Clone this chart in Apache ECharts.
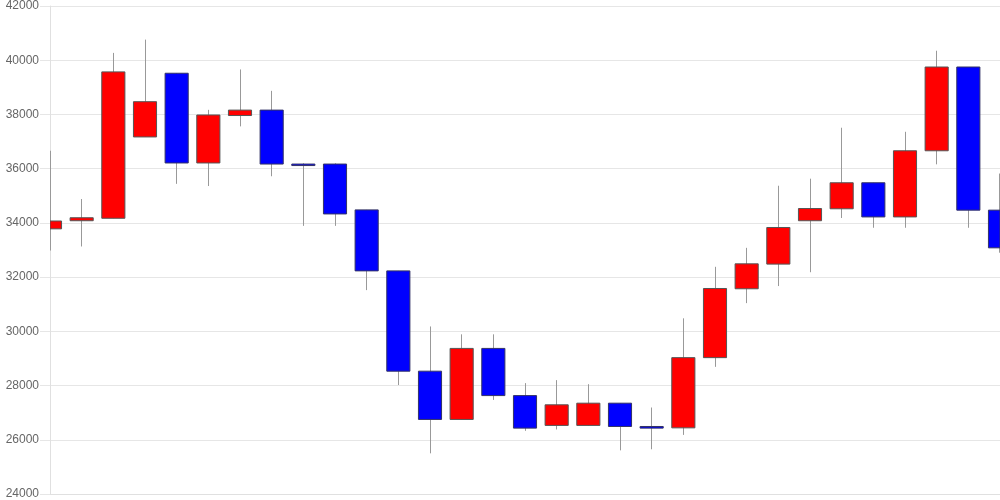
<!DOCTYPE html>
<html>
<head>
<meta charset="utf-8">
<script src="https://cdn.jsdelivr.net/npm/echarts@6/dist/echarts.min.js"></script>
<style>
html,body{margin:0;padding:0;background:#fff;}
#chart{width:1000px;height:500px;}
</style>
</head>
<body>
<div id="chart"></div>
<script>
var categories = ['1','2','3','4','5','6','7','8','9','10','11','12','13','14','15','16','17','18','19','20','21','22','23','24','25','26','27','28','29','30','31'];
var openValues  = [33780,34080,34170,37170,39520,36210,37960,38160,36170,36170,34480,32230,28530,26750,29370,27630,26530,26530,27350,26490,26440,29030,31570,32480,34080,34520,35480,34220,36660,39750,34470];
var closeValues = [34070,34190,39570,38470,36210,37980,38160,36170,36120,34330,32230,28530,26750,29370,27630,26430,27290,27350,26490,26430,29030,31580,32490,33830,34530,35480,34220,36660,39750,34470,33080];
var lowValues   = [32980,33130,34170,37170,35440,35360,37560,35720,33890,33890,31520,28020,25500,26750,27470,26330,26380,26530,25610,25650,26180,28690,31040,31670,32180,34180,33820,33820,36160,33820,32900];
var highValues  = [36660,34880,40270,40760,39520,38170,39660,38870,36200,36200,34480,32230,30180,29890,29890,28090,28200,28050,27350,27190,30480,32380,33080,35370,35630,37510,35480,37360,40350,39750,35820];
var yTicks = [24000,26000,28000,30000,32000,34000,36000,38000,40000,42000];

var seriesData = [];
for (var i = 0; i < categories.length; i++) {
  seriesData.push([i, openValues[i], closeValues[i], lowValues[i], highValues[i]]);
}

function renderItem(params, api) {
  var idx = api.value(0);
  var o = api.value(1), c = api.value(2), l = api.value(3), h = api.value(4);
  var pO = api.coord([idx, o]);
  var pC = api.coord([idx, c]);
  var pL = api.coord([idx, l]);
  var pH = api.coord([idx, h]);
  var w = api.size([1, 0])[0] * 0.73;
  var cs = params.coordSys;
  var clipArea = {x: cs.x, y: cs.y, width: cs.width, height: cs.height};
  var top = Math.min(pO[1], pC[1]);
  var hgt = Math.max(Math.abs(pO[1] - pC[1]), 1.5);
  var body = echarts.graphic.clipRectByRect({x: pO[0] - w / 2, y: top, width: w, height: hgt}, clipArea);
  var up = c >= o;
  var xw = Math.round(pO[0] - 0.5) + 0.5;
  if (xw > cs.x + cs.width) xw = cs.x + cs.width - 0.5;
  var children = [{
    type: 'line',
    shape: {x1: xw, y1: pH[1], x2: xw, y2: pL[1]},
    style: {stroke: '#999999', lineWidth: 1}
  }];
  if (body) {
    children.push({
      type: 'rect',
      shape: body,
      style: {fill: up ? '#ff0000' : '#0000ff', stroke: up ? '#555555' : '#333366', lineWidth: 1}
    });
  }
  return {type: 'group', children: children};
}

var chart = echarts.init(document.getElementById('chart'), null, {renderer: 'canvas'});
chart.setOption({
  animation: false,
  backgroundColor: '#ffffff',
  grid: {left: 50, right: 0, top: 6, bottom: 5, containLabel: false},
  xAxis: {
    type: 'category',
    data: categories,
    boundaryGap: false,
    axisLine: {show: true, lineStyle: {color: '#e0e0e0'}},
    axisTick: {show: false},
    axisLabel: {show: false},
    splitLine: {show: false}
  },
  yAxis: {
    type: 'value',
    min: yTicks[0],
    max: yTicks[yTicks.length - 1],
    interval: 2000,
    axisLine: {show: true, lineStyle: {color: '#e0e0e0'}},
    axisTick: {show: true, length: 10, lineStyle: {color: '#e6e6e6'}},
    axisLabel: {
      color: '#666', fontSize: 12, fontFamily: 'Liberation Sans, Arial, sans-serif', margin: 11,
      formatter: function (v) { return String(v); }
    },
    splitLine: {show: true, lineStyle: {color: '#e6e6e6'}}
  },
  series: [{
    type: 'custom',
    renderItem: renderItem,
    data: seriesData,
    encode: {x: 0, y: [1, 2, 3, 4]},
    clip: true
  }]
});
</script>
</body>
</html>
